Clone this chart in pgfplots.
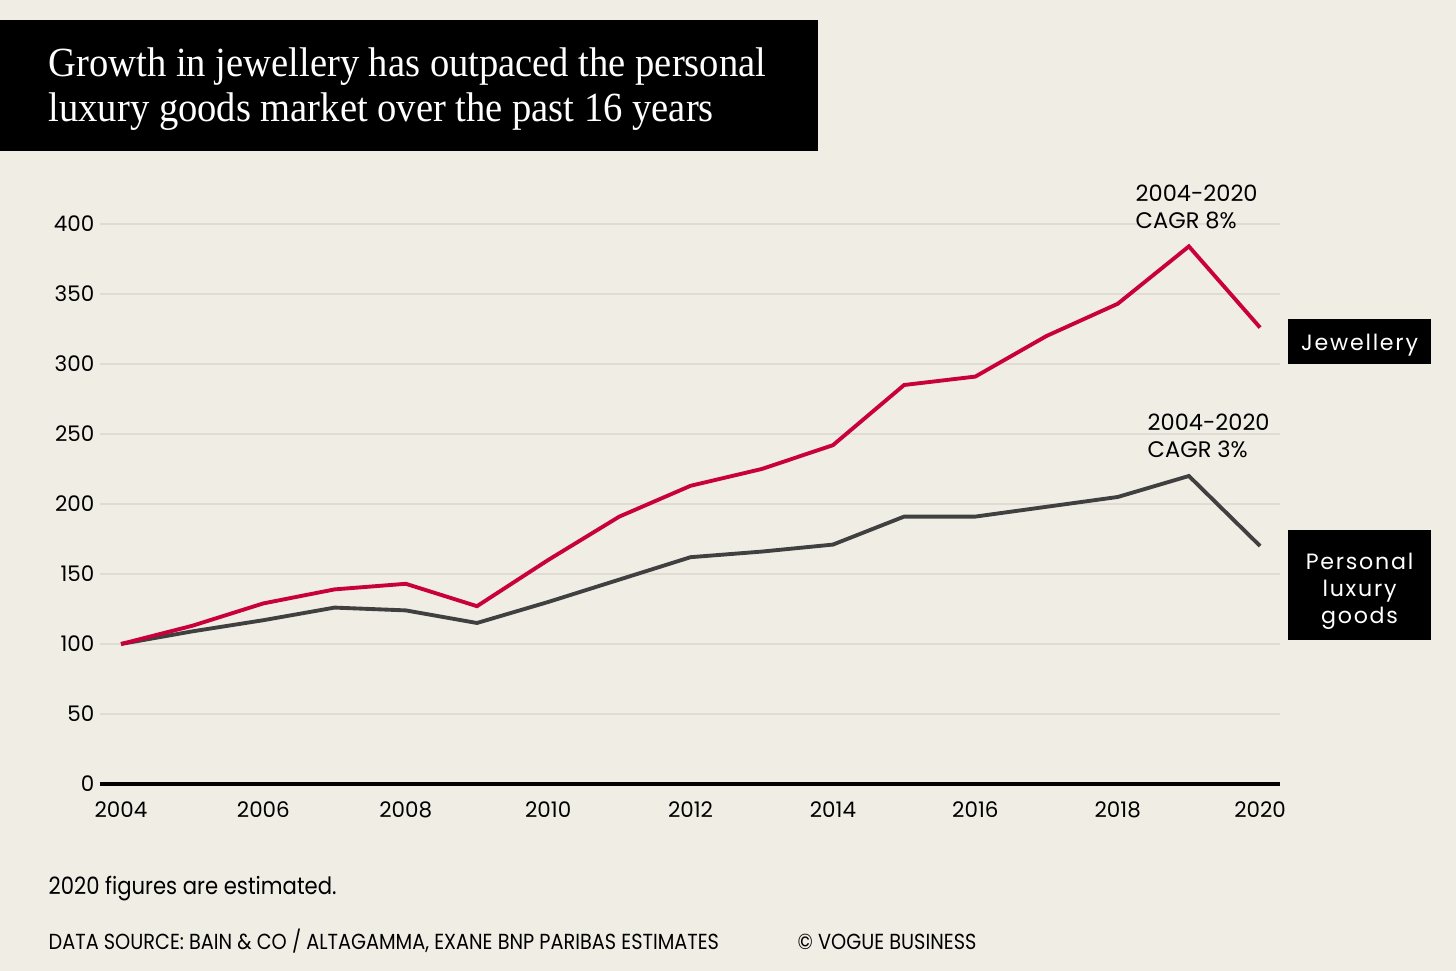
\documentclass[border=0pt]{standalone}
\usepackage{fontspec}
\setmainfont{Poppins}
\newfontfamily\titlefont[FakeStretch=0.93]{Liberation Serif}
\newfontfamily\narrowfont[FakeStretch=0.885]{Poppins}
\newfontfamily\spacedfont[LetterSpace=8]{Poppins}
\usepackage{pgfplots}
\pgfplotsset{compat=1.18}

\definecolor{bgcol}{HTML}{F0EDE5}
\definecolor{gridcol}{HTML}{E0DCD3}
\definecolor{jewred}{HTML}{C8003C}
\definecolor{luxgrey}{HTML}{404040}

\pgfplotstableread{
year jewellery luxury
2004 100 100
2005 113 109
2006 129 117
2007 139 126
2008 143 124
2009 127 115
2010 160 130
2011 191 146
2012 213 162
2013 225 166
2014 242 171
2015 285 191
2016 291 191
2017 320 198
2018 343 205
2019 384 220
2020 326 170
}\datatable

\begin{document}
\begin{tikzpicture}
\fill[bgcol] (0,0) rectangle (145.6mm,97.1mm);

\begin{axis}[
    at={(10mm,18.7mm)}, anchor=south west,
    scale only axis,
    width=118mm, height=56mm,
    xmin=2003.705, xmax=2020.28,
    ymin=0, ymax=400,
    xtick={2004,2006,...,2020},
    ytick={0,50,...,400},
    axis x line=bottom, axis y line=left,
    x axis line style={line width=0.9pt, -},
    y axis line style={draw=none},
    major tick length=0pt,
    ymajorgrids,
    grid style={gridcol, line width=0.6pt},
    /pgf/number format/1000 sep={},
    /pgf/number format/assume math mode=true,
    tick label style={font=\fontsize{6.1pt}{7pt}\selectfont, inner sep=0pt},
    yticklabel style={anchor=east, xshift=-0.5mm},
    xticklabel style={anchor=north, yshift=-1.7mm},
    clip=false,
]
\addplot[luxgrey, line width=1.1pt] table[x=year, y=luxury] {\datatable};
\addplot[jewred, line width=1.1pt] table[x=year, y=jewellery] {\datatable};
\end{axis}

\begin{scope}[x=0.1mm, y=-0.1mm, shift={(0,97.1mm)}]
  % title box
  \fill[black] (0,20) rectangle (818,151);
  \node[anchor=base west, inner sep=0pt, text=white, font=\titlefont\fontsize{11.8pt}{13pt}\selectfont]
    at (48,77) {Growth in jewellery has outpaced the personal};
  \node[anchor=base west, inner sep=0pt, text=white, font=\titlefont\fontsize{11.8pt}{13pt}\selectfont]
    at (48,122) {luxury goods market over the past 16 years};

  % CAGR annotations
  \node[anchor=base west, inner sep=0pt, font=\fontsize{6.4pt}{7pt}\selectfont] at (1135,202) {2004-2020};
  \node[anchor=base west, inner sep=0pt, font=\fontsize{6.4pt}{7pt}\selectfont] at (1135,229) {CAGR 8\%};
  \node[anchor=base west, inner sep=0pt, font=\fontsize{6.4pt}{7pt}\selectfont] at (1147,431) {2004-2020};
  \node[anchor=base west, inner sep=0pt, font=\fontsize{6.4pt}{7pt}\selectfont] at (1147,458) {CAGR 3\%};

  % series labels
  \fill[black] (1288,319) rectangle (1431,364);
  \node[inner sep=0pt, text=white, font=\spacedfont\fontsize{6.3pt}{7pt}\selectfont] at (1359.5,345) {Jewellery};
  \fill[black] (1288,530) rectangle (1431,640);
  \node[inner sep=0pt, text=white, align=center,
        font=\spacedfont\fontsize{6.3pt}{7.7pt}\selectfont] at (1359.5,591) {Personal\\luxury\\goods};

  % footnotes
  \node[anchor=base west, inner sep=0pt, font=\narrowfont\fontsize{6.8pt}{7pt}\selectfont] at (48,894) {2020 figures are estimated.};
  \node[anchor=base west, inner sep=0pt, font=\narrowfont\fontsize{6.2pt}{7pt}\selectfont] at (48,949) {DATA SOURCE: BAIN \& CO / ALTAGAMMA, EXANE BNP PARIBAS ESTIMATES};
  \node[anchor=base west, inner sep=0pt, font=\narrowfont\fontsize{6.2pt}{7pt}\selectfont] at (797,949) {\textcopyright{} VOGUE BUSINESS};
\end{scope}
\end{tikzpicture}
\end{document}
